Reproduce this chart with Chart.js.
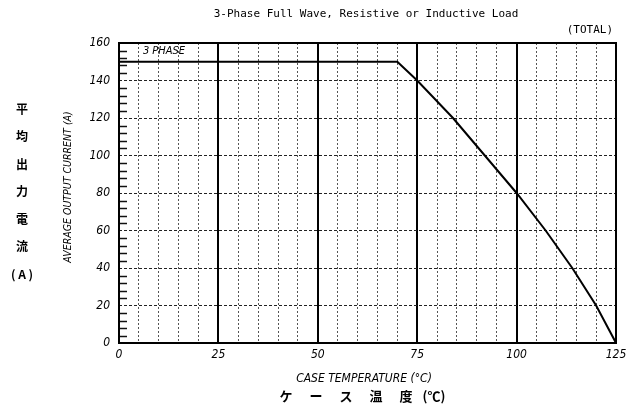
<!DOCTYPE html>
<html><head><meta charset="utf-8">
<script src="https://cdn.jsdelivr.net/npm/chart.js@4/dist/chart.umd.min.js"></script>
<style>html,body{margin:0;padding:0;background:#fff;overflow:hidden}canvas{display:block}</style>
</head><body>
<canvas id="c" width="626" height="408"></canvas>
<script>
// ---- data ----
const caseTempC   = [0, 70, 75, 84, 92, 100, 107.3, 114, 120, 125];
const avgCurrentA = [150, 150, 140, 120, 100, 80, 60, 40, 20, 0];
const seriesLabel = '3 PHASE';
const xTickLabels = [0, 25, 50, 75, 100, 125];
const yTickLabels = [0, 20, 40, 60, 80, 100, 120, 140, 160];
const titleText   = '3-Phase Full Wave, Resistive or Inductive Load';
const totalText   = '(TOTAL)';
const yTitleEn    = 'AVERAGE OUTPUT CURRENT (A)';
const yTitleJa    = ['平', '均', '出', '力', '電', '流', '(A)'];
const xTitleEn    = 'CASE TEMPERATURE (°C)';
const xTitleJa    = ['ケ', 'ー', 'ス', '温', '度', '(℃)'];

const NARROW = "'Liberation Sans Narrow','DejaVu Sans Condensed','Liberation Sans',sans-serif";
const MONO = "'DejaVu Sans Mono','Liberation Mono',monospace";
const JP = "'Noto Sans CJK JP',sans-serif";

const points = caseTempC.map((t, i) => ({x: t, y: avgCurrentA[i]}));

const decor = {
  id: 'decor',
  afterDatasetsDraw(chart) {
    const ctx = chart.ctx, a = chart.chartArea, ys = chart.scales.y;
    ctx.save();
    // minor ticks on left edge every 4 A
    ctx.strokeStyle = '#111'; ctx.lineWidth = 1.5;
    for (let v = 4; v < 160; v += 4) {
      if (v % 20 === 0) continue;
      const p = Math.round(ys.getPixelForValue(v)) + 0.5;
      ctx.beginPath(); ctx.moveTo(a.left, p); ctx.lineTo(a.left + 8, p); ctx.stroke();
    }
    // frame
    ctx.strokeStyle = '#000'; ctx.lineWidth = 2;
    ctx.strokeRect(a.left, a.top, a.right - a.left, a.bottom - a.top);
    // series label
    ctx.fillStyle = '#000';
    ctx.font = 'italic 11px ' + NARROW;
    ctx.textAlign = 'left'; ctx.textBaseline = 'middle';
    ctx.fillText(chart.data.datasets[0].label, chart.scales.x.getPixelForValue(5) + 4, a.top + 8);
    // title
    ctx.font = '11px ' + MONO;
    ctx.textAlign = 'center';
    ctx.fillText(titleText, 366, 14);
    ctx.textAlign = 'right';
    ctx.fillText(totalText, 613, 30);
    // y title english
    ctx.save();
    ctx.translate(68, 187); ctx.rotate(-Math.PI / 2);
    ctx.font = 'italic 10.5px ' + NARROW; ctx.textAlign = 'center';
    ctx.fillText(yTitleEn, 0, 0);
    ctx.restore();
    // y title japanese (vertical)
    ctx.font = '600 12px ' + JP; ctx.textAlign = 'center';
    yTitleJa.forEach((ch, i) => ctx.fillText(i < 6 ? ch : '( A )', 22, 109 + i * 27.5));
    // x titles
    ctx.font = 'italic 12px ' + NARROW;
    ctx.fillText(xTitleEn, 364, 379);
    ctx.font = '600 13px ' + JP;
    xTitleJa.forEach((ch, i) => ctx.fillText(ch, i < 5 ? 286 + i * 30 : 434, 396));
    ctx.restore();
  }
};

new Chart(document.getElementById('c'), {
  type: 'line',
  data: {
    datasets: [{
      label: seriesLabel,
      data: points,
      borderColor: '#000',
      borderWidth: 2,
      pointRadius: 0,
      tension: 0,
      fill: false
    }]
  },
  options: {
    responsive: false,
    animation: false,
    devicePixelRatio: 1,
    layout: {padding: {top: 43, right: 0, left: 0, bottom: 0}},
    plugins: {legend: {display: false}, tooltip: {enabled: false}, title: {display: false}},
    scales: {
      x: {
        type: 'linear', min: 0, max: 125,
        afterFit: s => { s.height = 65; s.paddingRight = 10; },
        ticks: {
          stepSize: 5, autoSkip: false, maxRotation: 0, padding: 5,
          color: '#000', font: {family: NARROW, style: 'italic', size: 12},
          callback: v => xTickLabels.includes(v) ? String(v) : ''
        },
        grid: {
          drawTicks: false,
          color: c => (c.tick && c.tick.value % 25 === 0) ? '#000' : '#555',
          lineWidth: c => (c.tick && c.tick.value % 25 === 0) ? 2 : 1
        },
        border: {display: false, dash: c => (c.tick && c.tick.value % 25 === 0) ? [] : [2, 2]}
      },
      y: {
        type: 'linear', min: 0, max: 160,
        afterFit: s => { s.width = 119; },
        ticks: {
          stepSize: 20, padding: 9,
          color: '#000', font: {family: NARROW, style: 'italic', size: 12},
          callback: v => yTickLabels.includes(v) ? String(v) : ''
        },
        grid: {drawTicks: false, color: '#222', lineWidth: 1},
        border: {display: false, dash: [3, 2]}
      }
    }
  },
  plugins: [decor]
});
</script>
</body></html>
